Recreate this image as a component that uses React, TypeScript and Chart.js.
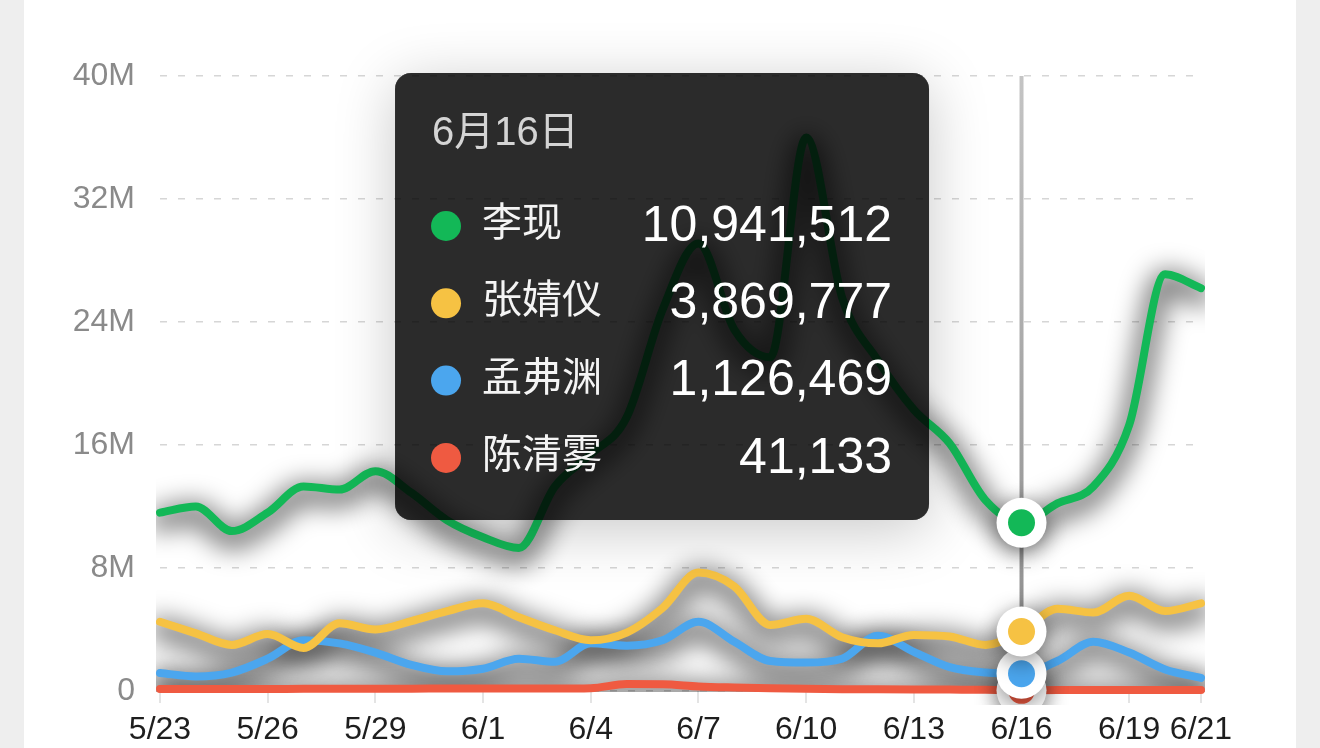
import React, { useEffect, useRef } from 'react';
import { Chart, registerables } from 'chart.js';

Chart.register(...registerables);

const dates = ['5/23', '5/24', '5/25', '5/26', '5/27', '5/28', '5/29', '5/30', '5/31', '6/1', '6/2', '6/3', '6/4', '6/5', '6/6', '6/7', '6/8', '6/9', '6/10', '6/11', '6/12', '6/13', '6/14', '6/15', '6/16', '6/17', '6/18', '6/19', '6/20', '6/21'];
const shownDates = ['5/23', '5/26', '5/29', '6/1', '6/4', '6/7', '6/10', '6/13', '6/16', '6/19', '6/21'];
const yTickValues = [0, 8000000, 16000000, 24000000, 32000000, 40000000];
const yTickLabels = ['0', '8M', '16M', '24M', '32M', '40M'];
const activeDate = '6/16';

const seriesNames = ['李现', '张婧仪', '孟弗渊', '陈清雾'];
const seriesColors = ['#13b857', '#f6c243', '#4ba6ee', '#ef5a41'];

const liXian = [11600000, 12000000, 10400000, 11600000, 13300000, 13100000, 14300000, 12900000, 11100000, 10000000, 9300000, 13300000, 15400000, 17800000, 24800000, 29100000, 23500000, 21700000, 36000000, 25600000, 21500000, 18300000, 16100000, 12400000, 10941512, 12200000, 13300000, 17300000, 27100000, 26200000];
const zhangJingyi = [4500000, 3750000, 3000000, 3700000, 2800000, 4400000, 4000000, 4550000, 5200000, 5700000, 4800000, 3950000, 3300000, 3800000, 5400000, 7700000, 6800000, 4300000, 4700000, 3500000, 3100000, 3650000, 3550000, 3000000, 3869777, 5350000, 5100000, 6200000, 5200000, 5700000];
const mengFuyuan = [1170000, 950000, 1200000, 2100000, 3300000, 3100000, 2500000, 1700000, 1280000, 1450000, 2100000, 1900000, 3100000, 2950000, 3300000, 4500000, 3200000, 1950000, 1850000, 2100000, 3600000, 2550000, 1550000, 1200000, 1126469, 1950000, 3200000, 2500000, 1400000, 850000];
const chenQingwu = [130000, 130000, 130000, 130000, 140000, 140000, 150000, 150000, 160000, 160000, 160000, 160000, 180000, 450000, 440000, 300000, 230000, 180000, 140000, 120000, 110000, 100000, 90000, 80000, 41133, 60000, 60000, 60000, 60000, 60000];

const seriesValues = [liXian, zhangJingyi, mengFuyuan, chenQingwu];

const FONT = '"Liberation Sans", Arial, "Noto Sans CJK SC", sans-serif';

export default function App() {
  const ref = useRef<HTMLCanvasElement>(null);

  useEffect(() => {
    const activeIndex = dates.indexOf(activeDate);

    const crosshairPlugin = {
      id: 'crosshair',
      beforeDatasetsDraw(chart: any) {
        const c = chart.ctx;
        const x = chart.scales.x.getPixelForValue(activeIndex);
        const { top, bottom } = chart.chartArea;
        const g = c.createLinearGradient(0, top, 0, bottom);
        g.addColorStop(0, '#c4c4c4');
        g.addColorStop(1, '#8a8a8a');
        c.save();
        c.strokeStyle = g;
        c.lineWidth = 4;
        c.beginPath();
        c.moveTo(x, top);
        c.lineTo(x, bottom);
        c.stroke();
        c.restore();
      },
    };

    // soft blurred shadow under every line
    const lineShadowPlugin = {
      id: 'lineShadow',
      beforeDatasetsDraw(chart: any) {
        const c = chart.ctx;
        const area = chart.chartArea;
        c.save();
        c.beginPath();
        c.rect(area.left - 4, area.top - 4, area.right - area.left + 8, area.bottom - area.top + 5);
        c.clip();
        c.filter = 'blur(13px)';
        c.strokeStyle = 'rgba(0,0,0,0.55)';
        c.lineWidth = 22;
        c.lineJoin = 'round';
        c.lineCap = 'round';
        c.translate(0, 7);
        for (let k = seriesNames.length - 1; k >= 0; k--) {
          const line = chart.getDatasetMeta(k).dataset;
          if (!line) continue;
          if (line.updateControlPoints) line.updateControlPoints(area, 'x');
          c.beginPath();
          line.path(c);
          c.stroke();
        }
        c.restore();
      },
    };

    const activePointsPlugin = {
      id: 'activePoints',
      afterDatasetsDraw(chart: any) {
        const c = chart.ctx;
        const area = chart.chartArea;
        c.save();
        c.beginPath();
        c.rect(area.left - 30, area.top - 30, area.right - area.left + 60, area.bottom - area.top + 44);
        c.clip();
        for (let k = seriesNames.length - 1; k >= 0; k--) {
          const el = chart.getDatasetMeta(k).data[activeIndex];
          if (!el) continue;
          c.save();
          c.shadowColor = 'rgba(0,0,0,0.45)';
          c.shadowBlur = 22;
          c.shadowOffsetY = 6;
          c.fillStyle = '#ffffff';
          c.beginPath();
          c.arc(el.x, el.y, 25, 0, Math.PI * 2);
          c.fill();
          c.restore();
          c.fillStyle = seriesColors[k];
          c.beginPath();
          c.arc(el.x, el.y, 13.5, 0, Math.PI * 2);
          c.fill();
        }
        c.restore();
      },
    };

    const tooltipPlugin = {
      id: 'fixedTooltip',
      afterDraw(chart: any) {
        const c = chart.ctx;
        const px = chart.scales.x.getPixelForValue(activeIndex);
        const w = 534;
        const h = 447;
        const right = px - 92.5;
        const left = right - w;
        const top = chart.chartArea.top - 3;
        const [m, d] = dates[activeIndex].split('/');
        const title = `${m}月${d}日`;
        c.save();
        c.beginPath();
        c.rect(0, 0, chart.width, chart.height);
        c.roundRect(left, top, w, h, 16);
        c.clip('evenodd');
        c.shadowColor = 'rgba(0,0,0,0.22)';
        c.shadowBlur = 60;
        c.shadowOffsetY = 10;
        c.fillStyle = '#000';
        c.beginPath();
        c.roundRect(left, top, w, h, 16);
        c.fill();
        c.restore();

        c.save();
        c.fillStyle = 'rgba(0,0,0,0.83)';
        c.beginPath();
        c.roundRect(left, top, w, h, 16);
        c.fill();
        c.textBaseline = 'middle';
        c.textAlign = 'left';
        c.font = `40px ${FONT}`;
        c.fillStyle = '#d4d4d4';
        c.fillText(title, left + 37, top + 61);
        seriesNames.forEach((name, k) => {
          const cy = top + 153 + k * 77.3;
          c.fillStyle = seriesColors[k];
          c.beginPath();
          c.arc(left + 51, cy, 15, 0, Math.PI * 2);
          c.fill();
          c.fillStyle = '#f4f4f4';
          c.textAlign = 'left';
          c.font = `40px ${FONT}`;
          c.fillText(name, left + 87, cy - 1);
          c.font = `50px ${FONT}`;
          c.textAlign = 'right';
          c.fillStyle = '#ffffff';
          c.fillText(seriesValues[k][activeIndex].toLocaleString('en-US'), right - 37, cy + 1);
        });
        c.restore();
      },
    };

    const chart = new Chart(ref.current as HTMLCanvasElement, {
      type: 'line',
      data: {
        labels: dates,
        datasets: seriesNames.map((name, k) => ({
          label: name,
          data: seriesValues[k],
          borderColor: seriesColors[k],
          backgroundColor: seriesColors[k],
          borderWidth: 8,
          fill: false,
          cubicInterpolationMode: 'monotone' as const,
          borderCapStyle: 'round' as const,
          borderJoinStyle: 'round' as const,
          pointRadius: 0,
          pointHoverRadius: 0,
          clip: { left: 4, right: 4, top: 4, bottom: 10 } as any,
        })),
      },
      options: {
        responsive: false,
        animation: false,
        events: [],
        layout: { padding: { top: 76, right: 119, left: 0, bottom: 0 } },
        plugins: {
          legend: { display: false },
          tooltip: { enabled: false },
        },
        scales: {
          x: {
            afterFit: (scale: any) => {
              scale.height = 57;
            },
            grid: {
              drawOnChartArea: false,
              drawTicks: true,
              tickLength: 12,
              lineWidth: 2,
              color: (ctx: any) => (shownDates.includes(dates[ctx.index]) ? '#e4e4e4' : 'rgba(0,0,0,0)'),
            },
            border: { display: false },
            ticks: {
              autoSkip: false,
              maxRotation: 0,
              minRotation: 0,
              padding: 8,
              color: '#1e1e1e',
              font: { family: FONT, size: 32 },
              callback: (_v: any, i: number) => (shownDates.includes(dates[i]) ? dates[i] : ''),
            },
          },
          y: {
            min: yTickValues[0],
            max: yTickValues[yTickValues.length - 1],
            afterFit: (scale: any) => {
              scale.width = 160;
            },
            afterBuildTicks: (scale: any) => {
              scale.ticks = yTickValues.map((v) => ({ value: v }));
            },
            grid: {
              drawTicks: false,
              color: '#d6d6d6',
              lineWidth: 1.5,
            },
            border: { display: false, dash: [7, 11] },
            ticks: {
              padding: 25,
              color: '#8a8a8a',
              font: { family: FONT, size: 32 },
              callback: (v: any) => yTickLabels[yTickValues.indexOf(Number(v))],
            },
          },
        },
      },
      plugins: [crosshairPlugin, lineShadowPlugin, activePointsPlugin, tooltipPlugin],
    });
    return () => chart.destroy();
  }, []);

  return (
    <div style={{ position: 'fixed', left: 0, top: 0, width: 1320, height: 748, background: '#eeeeee', overflow: 'hidden' }}>
      <div style={{ position: 'absolute', left: 24, top: 0, width: 1272, height: 748, background: '#ffffff' }} />
      <canvas ref={ref} width={1320} height={748} style={{ position: 'absolute', left: 0, top: 0, width: 1320, height: 748 }} />
    </div>
  );
}
